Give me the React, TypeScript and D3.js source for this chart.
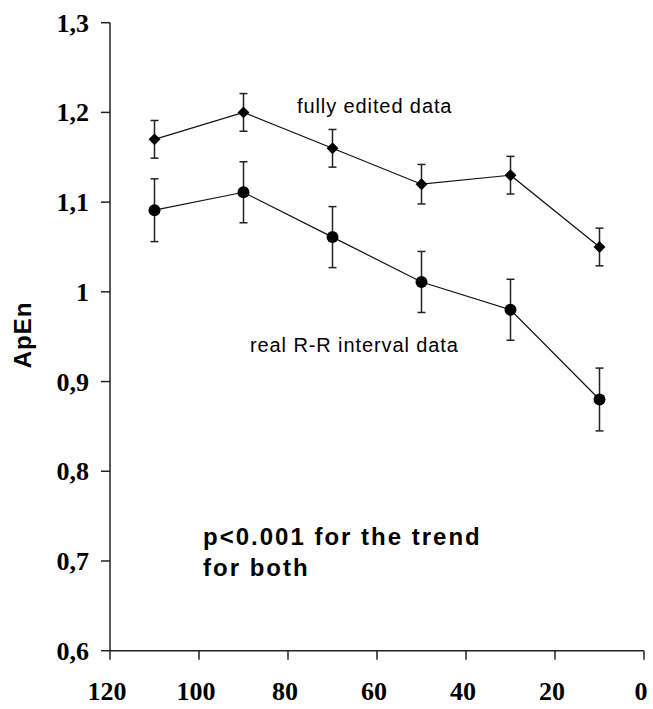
import React from 'react';
import * as d3 from 'd3';

// x positions (descending axis, 120 on the left)
const xValues = [110, 90, 70, 50, 30, 10];
// ApEn, fully edited data
const editedMeans = [1.17, 1.2, 1.16, 1.12, 1.13, 1.05];
const editedErrors = [0.021, 0.021, 0.021, 0.022, 0.021, 0.021];
// ApEn, real R-R interval data
const realMeans = [1.091, 1.111, 1.061, 1.011, 0.98, 0.88];
const realErrors = [0.035, 0.034, 0.034, 0.034, 0.034, 0.035];

const xTicks = [120, 100, 80, 60, 40, 20, 0];
const yTicks = [0.6, 0.7, 0.8, 0.9, 1.0, 1.1, 1.2, 1.3];

const width = 653;
const height = 709;

function fmtY(v: number) {
  const s = d3.format('.1f')(v);
  return s === '1.0' ? '1' : s.replace('.', ',');
}

export default function App() {
  const x = d3.scaleLinear().domain([120, 0]).range([110, 644]);
  const y = d3.scaleLinear().domain([0.6, 1.3]).range([650.7, 22.7]);

  const line = d3.line<number>()
    .x((_, i) => x(xValues[i]))
    .y(d => y(d));

  const errorBars = (means: number[], errs: number[]) =>
    means.map((m, i) => {
      const cx = x(xValues[i]);
      const top = y(m + errs[i]);
      const bot = y(m - errs[i]);
      return (
        <g key={i} stroke="#222" strokeWidth={1.5}>
          <line x1={cx} x2={cx} y1={top} y2={bot} />
          <line x1={cx - 4} x2={cx + 4} y1={top} y2={top} />
          <line x1={cx - 4} x2={cx + 4} y1={bot} y2={bot} />
        </g>
      );
    });

  const diamond = d3.symbol().type(d3.symbolDiamond2).size(90)();

  return (
    <svg width={width} height={height} style={{ position: 'absolute', left: 0, top: 0, background: '#fff' }}>
      {/* axes */}
      <g stroke="#222" strokeWidth={1.5} fill="none">
        <line x1={x(120)} x2={x(120)} y1={y(1.3)} y2={y(0.6)} />
        <line x1={x(120)} x2={x(0)} y1={y(0.6)} y2={y(0.6)} />
        {yTicks.map(t => (
          <line key={t} x1={x(120) - 9} x2={x(120)} y1={y(t)} y2={y(t)} />
        ))}
        {xTicks.map(t => (
          <line key={t} x1={x(t)} x2={x(t)} y1={y(0.6)} y2={y(0.6) + 9} />
        ))}
      </g>
      <g fontFamily="'Liberation Serif', 'Times New Roman', serif" fontWeight="bold" fontSize={26} fill="#000">
        {yTicks.map(t => (
          <text key={t} x={89} y={y(t) + 9} textAnchor="end">{fmtY(t)}</text>
        ))}
        {xTicks.map(t => (
          <text key={t} x={x(t) - 3} y={700} textAnchor="middle">{t}</text>
        ))}
      </g>
      <text
        transform={`translate(31,${335}) rotate(-90)`}
        textAnchor="middle"
        fontFamily="'Liberation Sans', Arial, sans-serif"
        fontWeight="bold"
        fontSize={24}
        letterSpacing={1}
      >ApEn</text>

      {/* series lines */}
      <path d={line(editedMeans) || ''} fill="none" stroke="#111" strokeWidth={1.2} />
      <path d={line(realMeans) || ''} fill="none" stroke="#111" strokeWidth={1.2} />

      {errorBars(editedMeans, editedErrors)}
      {errorBars(realMeans, realErrors)}

      {editedMeans.map((m, i) => (
        <path key={i} d={diamond || ''} transform={`translate(${x(xValues[i])},${y(m)})`} fill="#000" />
      ))}
      {realMeans.map((m, i) => (
        <circle key={i} cx={x(xValues[i])} cy={y(m)} r={6} fill="#000" />
      ))}

      {/* annotations */}
      <g fontFamily="'Liberation Sans', Arial, sans-serif" fill="#000">
        <text x={297} y={113} fontSize={20} letterSpacing={0.9}>fully edited data</text>
        <text x={250} y={352} fontSize={20} letterSpacing={0.9}>real R-R interval data</text>
        <text fontSize={24} fontWeight="bold" letterSpacing={2}>
          <tspan x={203} y={545}>p&lt;0.001 for the trend</tspan>
          <tspan x={203} y={576}>for both</tspan>
        </text>
      </g>
    </svg>
  );
}
